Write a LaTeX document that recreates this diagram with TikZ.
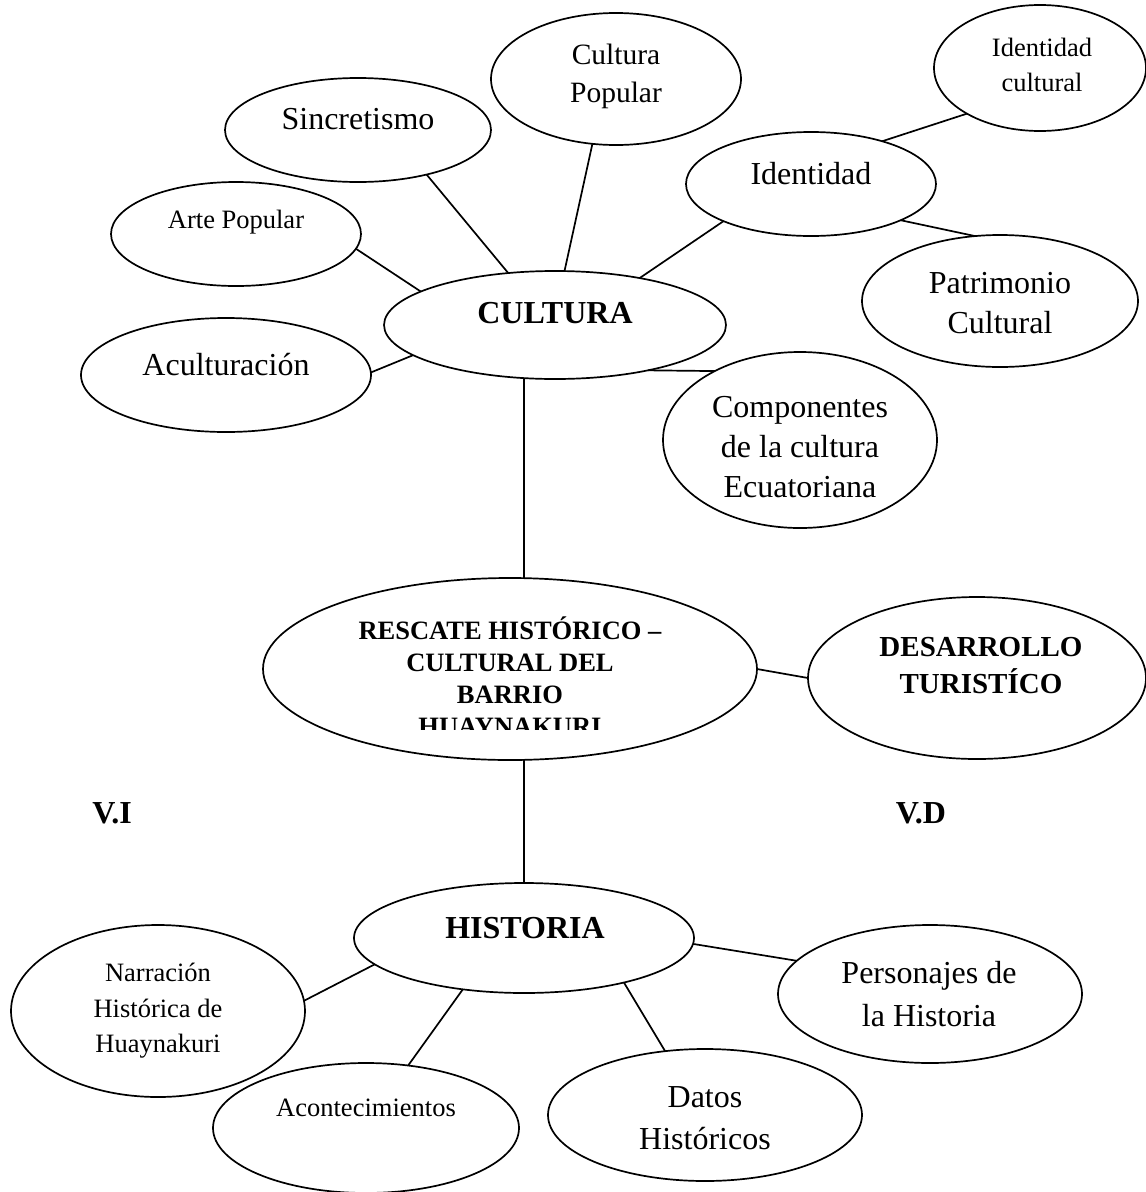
\documentclass[tikz,border=0pt]{standalone}
\usepackage{fontspec}
\setmainfont{Liberation Serif}
\usetikzlibrary{shapes.geometric}
\begin{document}
\begin{tikzpicture}[x=1pt,y=-1pt,
  bub/.style={draw, ellipse, line width=1.7pt, inner sep=0pt, outer sep=0pt},
  lnk/.style={line width=1.7pt},
  sm/.style={font=\fontsize{26.5}{35.5}\selectfont, align=center, inner sep=0pt},
  md/.style={font=\fontsize{32}{40}\selectfont, align=center, inner sep=0pt},
  mdl/.style={font=\fontsize{32}{42.5}\selectfont, align=center, inner sep=0pt},
  cp/.style={font=\fontsize{29.5}{38}\selectfont, align=center, inner sep=0pt},
  bbig/.style={font=\fontsize{32}{38}\selectfont\bfseries, align=center, inner sep=0pt},
  bmid/.style={font=\fontsize{29}{37}\selectfont\bfseries, align=center, inner sep=0pt},
  bsm/.style={font=\fontsize{26.5}{32}\selectfont\bfseries, align=center, inner sep=0pt}]
\useasboundingbox (0,0) rectangle (1146,1192);

% ellipses
\node[bub, minimum width=266pt, minimum height=104pt] (sinc) at (358,130) {};
\node[bub, minimum width=250pt, minimum height=132pt] (cpop) at (616,79) {};
\node[bub, minimum width=250pt, minimum height=104pt] (apop) at (236,234) {};
\node[bub, minimum width=250pt, minimum height=104pt] (iden) at (811,184) {};
\node[bub, minimum width=212pt, minimum height=126pt] (icul) at (1040,68) {};
\node[bub, minimum width=342pt, minimum height=108pt] (cult) at (555,325) {};
\node[bub, minimum width=290pt, minimum height=114pt] (acul) at (226,375) {};
\node[bub, minimum width=276pt, minimum height=132pt] (patr) at (1000,301) {};
\node[bub, minimum width=274pt, minimum height=176pt] (comp) at (800,440) {};
\node[bub, minimum width=494pt, minimum height=182pt] (resc) at (510,669) {};
\node[bub, minimum width=338pt, minimum height=162pt] (desa) at (977,678) {};
\node[bub, minimum width=340pt, minimum height=110pt] (hist) at (524,938) {};
\node[bub, minimum width=294pt, minimum height=172pt] (narr) at (158,1011) {};
\node[bub, minimum width=306pt, minimum height=130pt] (acon) at (366,1128) {};
\node[bub, minimum width=314pt, minimum height=132pt] (dato) at (705,1115) {};
\node[bub, minimum width=304pt, minimum height=138pt] (pers) at (930,994) {};

% texts
\node[md] (sinc-t) at (358,119) {Sincretismo};
\node[cp] (cpop-t) at (616,76) {Cultura\\Popular};
\node[sm] (apop-t) at (236,222) {Arte Popular};
\node[md] (iden-t) at (811,174) {Identidad};
\node[sm] (icul-t) at (1042,65) {Identidad\\cultural};
\node[bbig] (cult-t) at (555,313) {CULTURA};
\node[md] (acul-t) at (226,365) {Aculturación};
\node[md] (patr-t) at (1000,303) {Patrimonio\\Cultural};
\node[md] (comp-t) at (800,447) {Componentes\\de la cultura\\Ecuatoriana};
\begin{scope}
  \clip (250,570) rectangle (770,729.5);
  \node[bsm] (resc-t) at (510,676) {RESCATE HISTÓRICO –\\CULTURAL DEL\\BARRIO\\HUAYNAKURI};
\end{scope}
\node[bmid] (desa-t) at (981,666) {DESARROLLO\\TURISTÍCO};
\node[bbig] (vi) at (112,813) {V.I};
\node[bbig] (vd) at (921,813) {V.D};
\node[bbig] (hist-t) at (525,928) {HISTORIA};
\node[sm] (narr-t) at (158,1011) {Narración\\Histórica de\\Huaynakuri};
\node[sm] (acon-t) at (366,1108) {Acontecimientos};
\node[mdl] (dato-t) at (705,1118) {Datos\\Históricos};
\node[mdl] (pers-t) at (929,994) {Personajes de\\la Historia};

% connectors
\draw[lnk] (sinc.-33.7) -- (cult.132.2);
\draw[lnk] (cpop.-110.5) -- (cult.80.7);
\draw[lnk] (apop.-7.4) -- (cult.166.9);
\draw[lnk] (iden.-157) -- (cult.29.6);
\draw[lnk] (iden.-22.1) -- (patr.111);
\draw[lnk] (icul.-148.1) -- (iden.31.5);
\draw[lnk] (acul.1) -- (cult.-168);
\draw[lnk] (cult.-26.6) -- (comp.141);
\draw[lnk] (cult.-120.3) -- (cult.-120.3 |- resc.north);
\draw[lnk] (resc.east) -- (desa.west);
\draw[lnk] (hist.north |- resc.south) -- (hist.north);
\draw[lnk] (hist.-170.6) -- (narr.4.25);
\draw[lnk] (hist.-140.6) -- (acon.56.7);
\draw[lnk] (hist.-24.9) -- (dato.122.2);
\draw[lnk] (hist.-2) -- (pers.166);
\end{tikzpicture}
\end{document}
